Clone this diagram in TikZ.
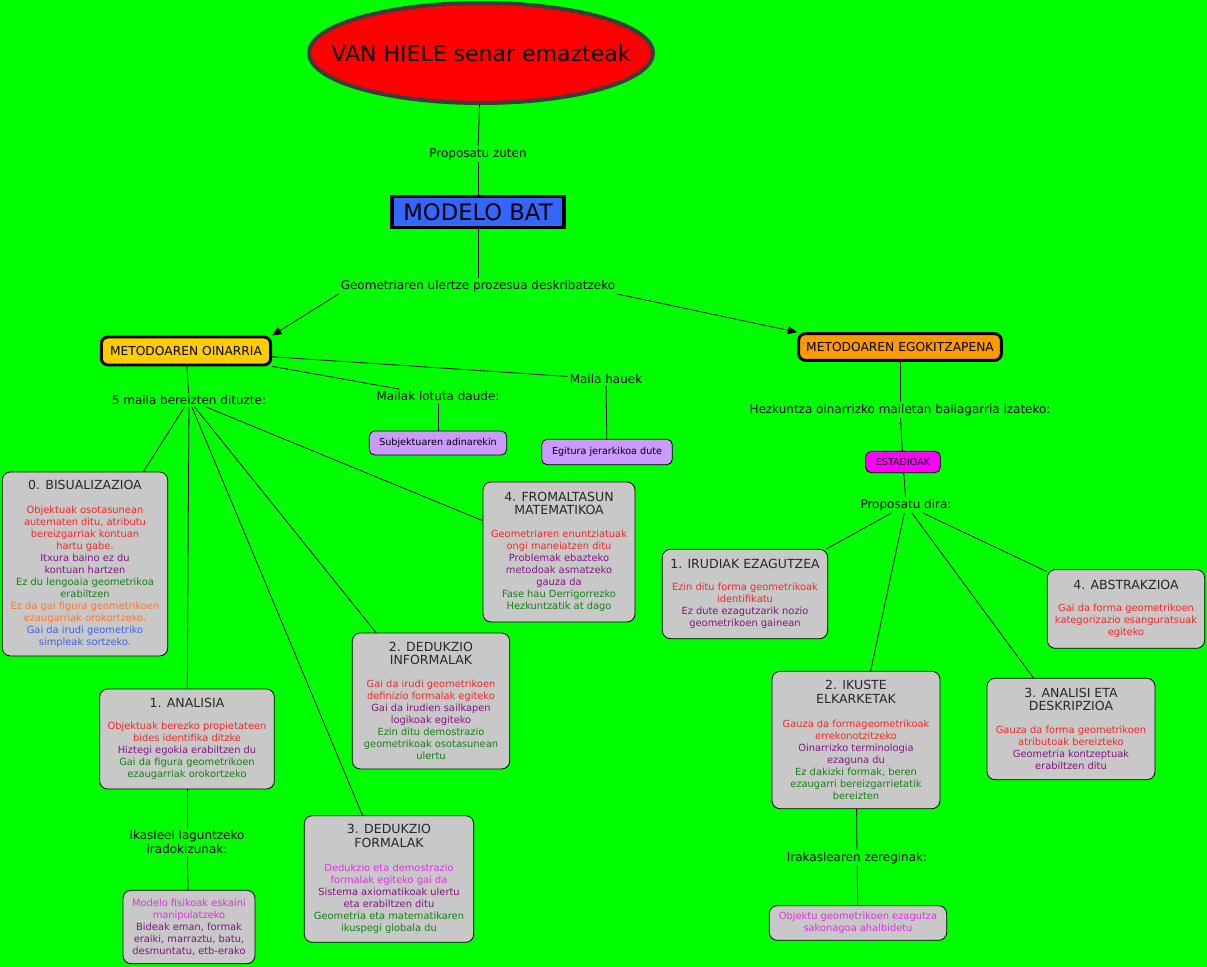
\documentclass[tikz,border=0pt]{standalone}
\usepackage{fontspec}
\setmainfont{DejaVu Sans}
\usetikzlibrary{arrows.meta,shapes.geometric}

\definecolor{bggreen}{RGB}{0,255,0}
\definecolor{titlered}{RGB}{255,0,0}
\definecolor{rimgray}{RGB}{60,60,60}
\definecolor{modelblue}{RGB}{51,102,255}
\definecolor{goldbox}{RGB}{255,204,0}
\definecolor{orangebox}{RGB}{255,153,0}
\definecolor{lilac}{RGB}{204,153,255}
\definecolor{stagepink}{RGB}{255,0,255}
\definecolor{boxgray}{RGB}{200,200,200}
\definecolor{headgray}{RGB}{40,40,40}
\definecolor{txtred}{RGB}{240,40,40}
\definecolor{txtpurple}{RGB}{128,20,128}
\definecolor{txtgreen}{RGB}{20,128,20}
\definecolor{txtorange}{RGB}{245,120,50}
\definecolor{txtblue}{RGB}{60,100,235}
\definecolor{txtmagenta}{RGB}{220,50,220}

\newcommand{\lvlhead}[1]{{\fontsize{9.4}{11.5}\selectfont\color{headgray}#1}}

\tikzset{
  lvl/.style={draw=black, fill=boxgray, rounded corners=6pt, align=center,
    inner sep=2pt, line width=0.6pt, font=\fontsize{7.4}{9}\selectfont},
  lnk/.style={align=center, inner sep=1.5pt, font=\fontsize{9}{11}\selectfont},
  conn/.style={line width=0.6pt},
  arr/.style={conn, -{Triangle[length=7pt,width=6pt]}},
  small/.style={draw=black, rounded corners=4pt, line width=0.6pt,
    font=\fontsize{7.2}{8.5}\selectfont, inner sep=1pt},
  metod/.style={draw=black, line width=2.2pt, rounded corners=5pt, inner sep=1pt,
    font=\fontsize{9.2}{11}\selectfont}
}

\begin{document}
\begin{tikzpicture}[x=0.75pt,y=-0.75pt]
    \fill[bggreen] (0,0) rectangle (1207,967);
    \useasboundingbox (0,0) rectangle (1207,967);

    \node[ellipse, draw=rimgray, line width=3pt, fill=titlered,
      minimum width=258pt, minimum height=75pt] (elli) at (481,53) {};
    \node[font=\fontsize{16.5}{20}\selectfont] (titl) at (elli.center) {VAN HIELE senar emazteak};
    \node[draw=black, line width=2.4pt, fill=modelblue, minimum width=129pt,
      minimum height=23pt, inner sep=1pt, font=\fontsize{17}{20}\selectfont] (model) at (478,212) {MODELO BAT};

    \node[lnk] (prop) at (478,154) {Proposatu zuten};
    \node[lnk] (geom) at (478,286) {Geometriaren ulertze prozesua deskribatzeko};

    \node[metod, fill=goldbox, minimum width=127pt, minimum height=21pt] (oinar) at (186,351) {METODOAREN OINARRIA};
    \node[metod, fill=orangebox, minimum width=152pt, minimum height=20pt] (egoki) at (900,347) {METODOAREN EGOKITZAPENA};

    \draw[conn] (elli) -- (prop);
    \draw[conn] (prop) -- (model);
    \draw[conn] (model) -- (geom);
    \draw[arr] (geom.south west) -- (oinar.north east);
    \draw[arr] (geom.south east) -- (egoki.north west);

    \node[lnk] (bost) at (189,400) {5 maila bereizten dituzte:};
    \node[lnk] (lotu) at (438,396) {Mailak lotuta daude:};
    \node[lnk] (hauek) at (606,379) {Maila hauek};
    \node[small, fill=lilac, minimum width=103pt, minimum height=18pt] (subj) at (438,443) {Subjektuaren adinarekin};
    \node[small, fill=lilac, minimum width=98pt, minimum height=19pt] (egit) at (607,452) {Egitura jerarkikoa dute};

    \draw[conn] (oinar) -- (bost);
    \draw[conn] (oinar) -- (lotu);
    \draw[conn] (oinar) -- (hauek);
    \draw[conn] (lotu) -- (subj);
    \draw[conn] (hauek) -- (egit);

    \node[lvl, minimum width=124pt, minimum height=138pt] (bis) at (85,564) {%
      \lvlhead{0. BISUALIZAZIOA}\\[9pt]
      \textcolor{txtred}{Objektuak osotasunean}\\
      \textcolor{txtred}{autematen ditu, atributu}\\
      \textcolor{txtred}{bereizgarriak kontuan}\\
      \textcolor{txtred}{hartu gabe.}\\
      \textcolor{txtpurple}{Itxura baino ez du}\\
      \textcolor{txtpurple}{kontuan hartzen}\\
      \textcolor{txtgreen}{Ez du lengoaia geometrikoa}\\
      \textcolor{txtgreen}{erabiltzen}\\
      \textcolor{txtorange}{Ez da gai figura geometrikoen}\\
      \textcolor{txtorange}{ezaugarriak orokortzeko.}\\
      \textcolor{txtblue}{Gai da irudi geometriko}\\
      \textcolor{txtblue}{simpleak sortzeko.}};
    \node[lvl, minimum width=131pt, minimum height=75pt] (ana) at (187,739) {%
      \lvlhead{1. ANALISIA}\\[8pt]
      \textcolor{txtred}{Objektuak berezko propietateen}\\
      \textcolor{txtred}{bides identifika ditzke}\\
      \textcolor{txtpurple}{Hiztegi egokia erabiltzen du}\\
      \textcolor{txtgreen}{Gai da figura geometrikoen}\\
      \textcolor{txtgreen}{ezaugarriak orokortzeko}};
    \node[lvl, minimum width=118pt, minimum height=102pt] (dedinf) at (431,701) {%
      \lvlhead{2. DEDUKZIO}\\[1pt]
      \lvlhead{INFORMALAK}\\[8pt]
      \textcolor{txtred}{Gai da irudi geometrikoen}\\
      \textcolor{txtred}{definizio formalak egiteko}\\
      \textcolor{txtpurple}{Gai da irudien sailkapen}\\
      \textcolor{txtpurple}{logikoak egiteko}\\
      \textcolor{txtgreen}{Ezin ditu demostrazio}\\
      \textcolor{txtgreen}{geometrikoak osotasunean}\\
      \textcolor{txtgreen}{ulertu}};
    \node[lvl, minimum width=127pt, minimum height=95pt] (dedfor) at (389,879) {%
      \lvlhead{3. DEDUKZIO}\\[1pt]
      \lvlhead{FORMALAK}\\[9pt]
      \textcolor{txtmagenta}{Dedukzio eta demostrazio}\\
      \textcolor{txtmagenta}{formalak egiteko gai da}\\
      \textcolor{txtpurple}{Sistema axiomatikoak ulertu}\\
      \textcolor{txtpurple}{eta erabiltzen ditu}\\
      \textcolor{txtgreen}{Geometria eta matematikaren}\\
      \textcolor{txtgreen}{ikuspegi globala du}};
    \node[lvl, minimum width=114pt, minimum height=105pt] (form) at (559,552) {%
      \lvlhead{4. FROMALTASUN}\\[1pt]
      \lvlhead{MATEMATIKOA}\\[8pt]
      \textcolor{txtred}{Geometriaren enuntziatuak}\\
      \textcolor{txtred}{ongi maneiatzen ditu}\\
      \textcolor{txtpurple}{Problemak ebazteko}\\
      \textcolor{txtpurple}{metodoak asmatzeko}\\
      \textcolor{txtpurple}{gauza da}\\
      \textcolor{txtgreen}{Fase hau Derrigorrezko}\\
      \textcolor{txtgreen}{Hezkuntzatik at dago}};

    \draw[conn] (bost) -- (bis);
    \draw[conn] (bost) -- (ana);
    \draw[conn] (bost) -- (dedinf);
    \draw[conn] (bost) -- (dedfor);
    \draw[conn] (bost) -- (form);

    \node[lnk] (ikasl) at (187,842) {Ikasleei laguntzeko\\iradokizunak:};
    \node[lvl, minimum width=99pt, minimum height=55pt] (modelo) at (189,927) {%
      \textcolor{txtmagenta}{Modelo fisikoak eskaini}\\
      \textcolor{txtmagenta}{manipulatzeko}\\
      \textcolor{txtpurple}{Bideak eman, formak}\\
      \textcolor{txtpurple}{eraiki, marraztu, batu,}\\
      \textcolor{txtpurple}{desmuntatu, etb-erako}};
    \draw[conn] (ana) -- (ikasl);
    \draw[conn] (ikasl) -- (modelo);

    \node[lnk] (hezk) at (900,410) {Hezkuntza oinarrizko mailetan baliagarria izateko:};
    \node[small, fill=stagepink, minimum width=56pt, minimum height=16pt] (estad) at (903,462) {ESTADIOAK};
    \node[lnk] (propd) at (906,505) {Proposatu dira:};
    \draw[conn] (egoki) -- (hezk);
    \draw[conn] (hezk) -- (estad);
    \draw[conn] (estad) -- (propd);

    \node[lvl, minimum width=124pt, minimum height=67pt] (irud) at (745,594) {%
      \lvlhead{1. IRUDIAK EZAGUTZEA}\\[8pt]
      \textcolor{txtred}{Ezin ditu forma geometrikoak}\\
      \textcolor{txtred}{identifikatu}\\
      \textcolor{txtpurple}{Ez dute ezagutzarik nozio}\\
      \textcolor{txtpurple}{geometrikoen gainean}};
    \node[lvl, minimum width=126pt, minimum height=103pt] (ikus) at (856,740) {%
      \lvlhead{2. IKUSTE}\\[1pt]
      \lvlhead{ELKARKETAK}\\[9pt]
      \textcolor{txtred}{Gauza da formageometrikoak}\\
      \textcolor{txtred}{errekonotzitzeko}\\
      \textcolor{txtpurple}{Oinarrizko terminologia}\\
      \textcolor{txtpurple}{ezaguna du}\\
      \textcolor{txtgreen}{Ez dakizki formak, beren}\\
      \textcolor{txtgreen}{ezaugarri bereizgarrietatik}\\
      \textcolor{txtgreen}{bereizten}};
    \node[lvl, minimum width=126pt, minimum height=76pt] (anal) at (1071,729) {%
      \lvlhead{3. ANALISI ETA}\\[1pt]
      \lvlhead{DESKRIPZIOA}\\[8pt]
      \textcolor{txtred}{Gauza da forma geometrikoen}\\
      \textcolor{txtred}{atributoak bereizteko}\\
      \textcolor{txtpurple}{Geometria kontzeptuak}\\
      \textcolor{txtpurple}{erabiltzen ditu}};
    \node[lvl, minimum width=118pt, minimum height=59pt] (abs) at (1126,609) {%
      \lvlhead{4. ABSTRAKZIOA}\\[8pt]
      \textcolor{txtred}{Gai da forma geometrikoen}\\
      \textcolor{txtred}{kategorizazio esanguratsuak}\\
      \textcolor{txtred}{egiteko}};

    \draw[conn] (propd) -- (irud);
    \draw[conn] (propd) -- (ikus);
    \draw[conn] (propd) -- (anal);
    \draw[conn] (propd) -- (abs);

    \node[lnk] (irakl) at (857,858) {Irakaslearen zereginak:};
    \node[lvl, minimum width=133pt, minimum height=26pt] (objek) at (858,923) {%
      \textcolor{txtmagenta}{Objektu geometrikoen ezagutza}\\
      \textcolor{txtmagenta}{sakonagoa ahalbidetu}};
    \draw[conn] (ikus) -- (irakl);
    \draw[conn] (irakl) -- (objek);
\end{tikzpicture}
\end{document}
